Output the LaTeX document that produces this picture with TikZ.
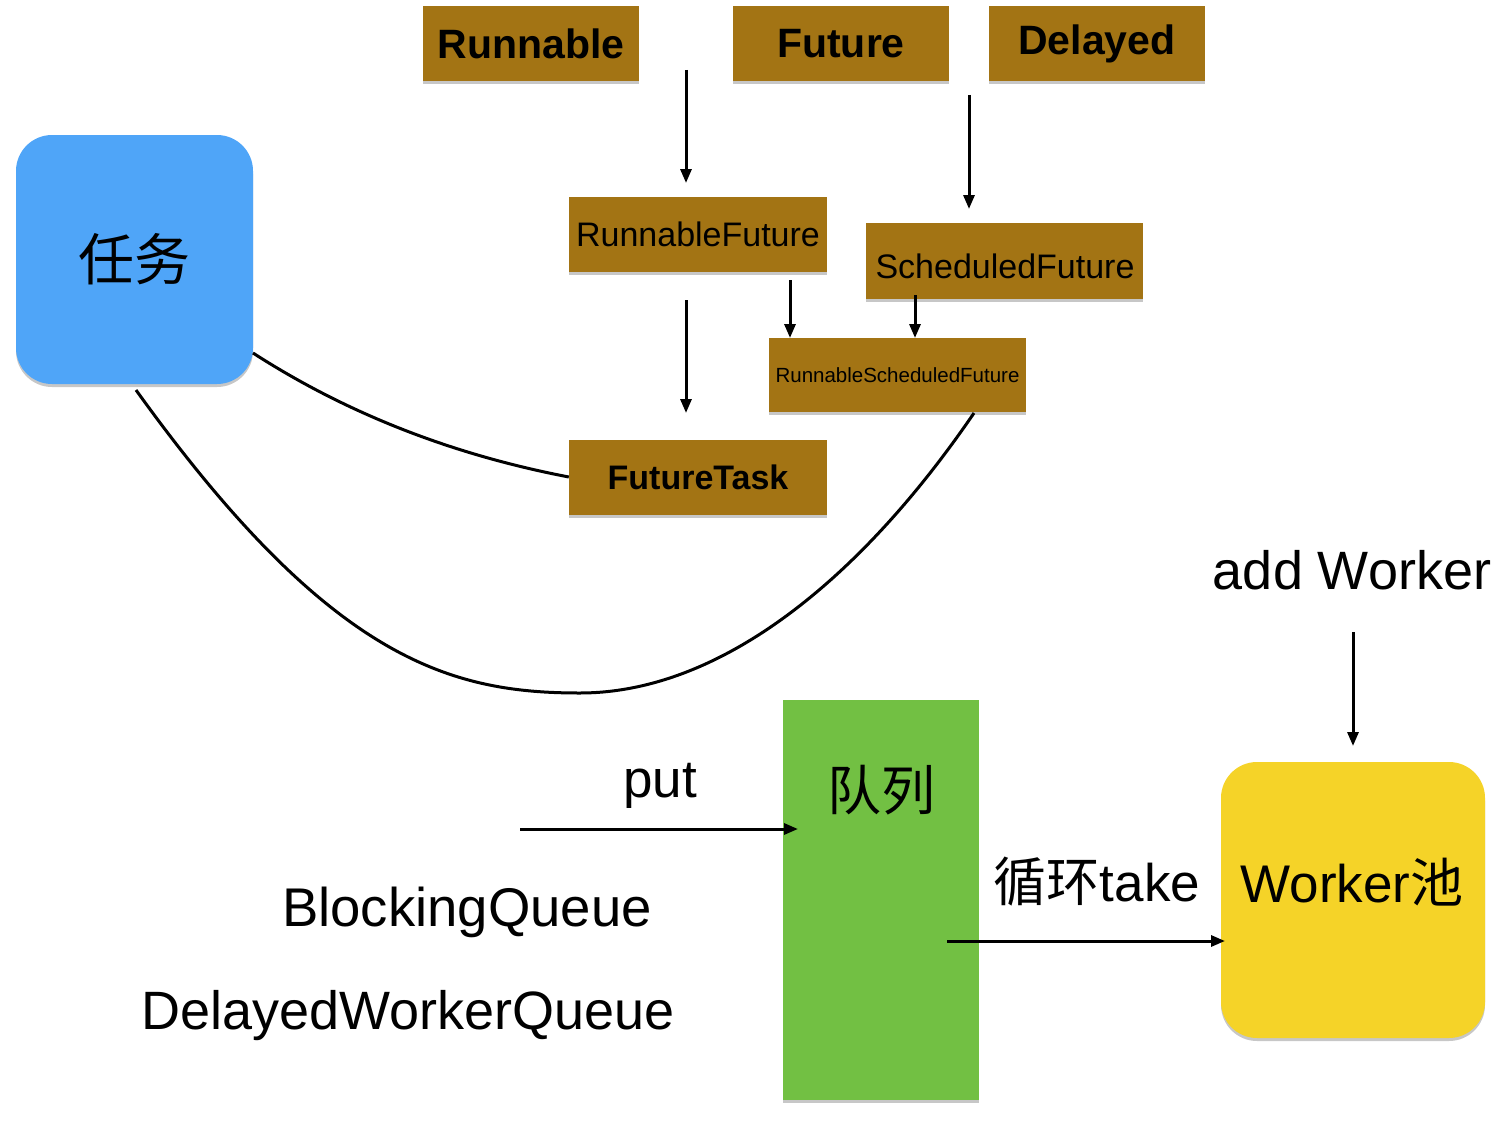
\documentclass[tikz,border=0pt]{standalone}
\usepackage{fontspec}
\setmainfont{Liberation Sans}
\newfontfamily\cjk{Noto Sans CJK SC}
\usetikzlibrary{shadows,arrows.meta}
\definecolor{brownc}{RGB}{163,116,20}
\definecolor{bluec}{RGB}{79,165,248}
\definecolor{greenc}{RGB}{114,192,67}
\definecolor{yellowc}{RGB}{245,211,40}
\begin{document}
\begin{tikzpicture}[x=1pt,y=-1pt,
  shadowed/.style={drop shadow={shadow xshift=0pt,shadow yshift=-3pt,opacity=0.22,fill=black}},
  brownbox/.style={shadowed,fill=brownc,inner sep=0pt,minimum width=216pt,minimum height=75pt},
  boldtxt/.style={font=\fontsize{41}{41}\selectfont\bfseries},
  midtxt/.style={font=\fontsize{34}{34}\selectfont},
  bigtxt/.style={font=\fontsize{53}{53}\selectfont},
  arr/.style={-{Triangle[length=14pt,width=11pt]},line width=3pt},
  curv/.style={line width=3pt}]
\useasboundingbox (0,0) rectangle (1508,1124);
% top boxes
\node[brownbox,boldtxt] (runnable) at (531,44) {Runnable};
\node[brownbox,boldtxt] (future) at (841,44) {Future};
\node[brownbox,boldtxt] (delayed) at (1097,44) {Delayed};
\node[brownbox,midtxt,minimum width=258pt] (rf) at (698,234.5) {RunnableFuture};
\node[brownbox,minimum width=277pt,minimum height=76pt] (sf) at (1004.5,261) {};
\node[midtxt] (sflabel) at (1005,266) {ScheduledFuture};
\node[brownbox,font=\fontsize{20.5}{20.5}\selectfont,minimum width=257pt,minimum height=74pt] (rsf) at (897.5,375) {RunnableScheduledFuture};
\node[brownbox,font=\fontsize{34}{34}\selectfont\bfseries,minimum width=258pt] (ft) at (698,477) {FutureTask};
% task box
\node[shadowed,fill=bluec,rounded corners=36pt,inner sep=0pt,minimum width=237pt,minimum height=249pt,font=\fontsize{56}{56}\selectfont\cjk] (task) at (134.5,259.5) {任务};
% queue
\node[shadowed,fill=greenc,inner sep=0pt,minimum width=196pt,minimum height=400pt] (queue) at (881,900) {};
\node[font=\fontsize{54}{54}\selectfont\cjk] (qlabel) at (881,790) {队列};
% worker pool
\node[shadowed,fill=yellowc,rounded corners=36pt,inner sep=0pt,minimum width=264pt,minimum height=276pt] (pool) at (1353,900) {};
\node[bigtxt] (plabel) at (1352,882) {Worker{\cjk 池}};
% texts
\node[font=\fontsize{54}{54}\selectfont] (addw) at (1352,570) {add Worker};
\node[bigtxt] (put) at (660,786) {put};
\node[bigtxt] (take) at (1097,882) {{\cjk 循环}take};
\node[font=\fontsize{54.5}{54.5}\selectfont] (bq) at (467,912) {BlockingQueue};
\node[font=\fontsize{54}{54}\selectfont] (dwq) at (408,1016) {DelayedWorkerQueue};
% arrow endpoints
\coordinate (a1s) at (686,70);   \coordinate (a1e) at (686,183);
\coordinate (a2s) at (969,95);   \coordinate (a2e) at (969,209);
\coordinate (a3s) at (790,280);  \coordinate (a3e) at (790,338);
\coordinate (a4s) at (915,295);  \coordinate (a4e) at (915,338);
\coordinate (a5s) at (686,300);  \coordinate (a5e) at (686,413);
\coordinate (a6s) at (1353,632); \coordinate (a6e) at (1353,746);
\coordinate (a7s) at (520,829);  \coordinate (a7e) at (798,829);
\coordinate (a8s) at (947,941);  \coordinate (a8e) at (1225,941);
\draw[arr] (a1s) -- (a1e);
\draw[arr] (a2s) -- (a2e);
\draw[arr] (a3s) -- (a3e);
\draw[arr] (a4s) -- (a4e);
\draw[arr] (a5s) -- (a5e);
\draw[arr] (a6s) -- (a6e);
\draw[arr] (a7s) -- (a7e);
\draw[arr] (a8s) -- (a8e);
% curves
\coordinate (c1s) at (253,353);
\coordinate (c2s) at (136,390);
\coordinate (c2e) at (974,413);
\draw[curv] (c1s) .. controls (360,422) and (470,458) .. (ft.west);
\draw[curv] (c2s) .. controls (330,660) and (450,693) .. (580,693) .. controls (720,693) and (860,580) .. (c2e);
\end{tikzpicture}
\end{document}
